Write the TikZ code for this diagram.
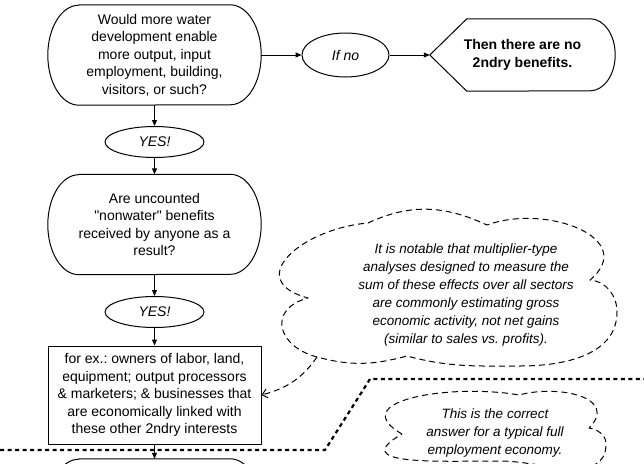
\documentclass[tikz,border=0pt]{standalone}
\usepackage{fontspec}
\setmainfont{Liberation Sans}[Ligatures=TeXOff]
\usetikzlibrary{shapes.geometric,arrows.meta}
\newcommand{\bodyfont}{\fontsize{14}{17.5}\selectfont}
\newcommand{\capsule}[1]{%
  \draw[boxline] ([xshift=31pt]#1.north west) -- ([xshift=-31pt]#1.north east)
    arc[start angle=90,end angle=-90,x radius=31pt,y radius=50pt]
    -- ([xshift=31pt]#1.south west)
    arc[start angle=270,end angle=90,x radius=31pt,y radius=50pt] -- cycle;}
\begin{document}
\frenchspacing
\begin{tikzpicture}[x=1pt, y=1pt, >={Triangle[length=6pt,width=5pt]}, font=\bodyfont, line join=round,
  boxline/.style={line width=1pt},
  qtext/.style={minimum width=213pt, minimum height=100pt, inner sep=0pt, align=center, font=\bodyfont},
  answer/.style={ellipse, draw, line width=1pt, minimum width=99pt, minimum height=31pt, inner sep=0pt, font=\bodyfont\itshape},
  flow/.style={->, line width=1pt},
  cloudline/.style={line width=1pt, dash pattern=on 6pt off 4pt},
  notearrow/.style={cloudline, -{Straight Barb[length=5pt,width=9pt]}},
  sepline/.style={line width=2.2pt, dash pattern=on 4pt off 3.5pt},
  note/.style={align=center, font=\fontsize{13.5}{18}\selectfont\itshape}]
 \useasboundingbox (0,0) rectangle (644,-463);
 \clip (0,0) rectangle (644,-463);
 % main column
 \node[qtext] (q1) at (154.5,-55) {Would more water\\development enable\\more output, input\\employment, building,\\visitors, or such?};
 \capsule{q1}
 \node[answer] (yes1) at (154.5,-142) {YES!};
 \node[qtext] (q2) at (154.5,-224.5) {Are uncounted\\"nonwater" benefits\\received by anyone as a\\result?};
 \capsule{q2}
 \node[answer] (yes2) at (154.5,-312) {YES!};
 \node[draw, line width=1pt, minimum width=213pt, minimum height=98pt, inner sep=0pt, align=center] (box3) at (154.5,-395)
  {for ex.: owners of labor, land,\\equipment; output processors\\\& marketers; \& businesses that\\are economically linked with\\these other 2ndry interests};
 \node[qtext] (q3) at (154.5,-509) {};
 \capsule{q3}
 % no branch
 \node[answer, minimum width=87pt, minimum height=44pt] (ifno) at (345.5,-55) {If no};
 \node[minimum width=185pt, minimum height=72pt, inner sep=0pt, align=center, font=\bodyfont\bfseries] (nogain) at (522.5,-55) {Then there are no\\2ndry benefits.};
 \draw[boxline] (nogain.west) -- ([xshift=37pt]nogain.north west) -- ([xshift=-25pt]nogain.north east)
  arc[start angle=90,end angle=-90,x radius=25pt,y radius=36pt] -- ([xshift=37pt]nogain.south west) -- cycle;
 \draw[flow] (q1) -- (yes1);
 \draw[flow] (yes1) -- (q2);
 \draw[flow] (q2) -- (yes2);
 \draw[flow] (yes2) -- (box3);
 \draw[flow] (box3) -- (q3);
 \draw[flow] (q1) -- (ifno);
 \draw[flow] (ifno) -- (nogain);
 % notes
 \node[note] (bignote) at (466,-295) {It is notable that multiplier-type\\analyses designed to measure the\\sum of these effects over all sectors\\are commonly estimating gross\\economic activity, not net gains\\(similar to sales vs. profits).};
 \draw[cloudline] (368,-223) to[out=25,in=155] (487,-225) to[out=20,in=40,looseness=1.4] (590,-280)
  to[out=-5,in=90] (617,-312) to[out=-90,in=0] (520,-366) to[out=180,in=-15] (407,-356)
  to[out=195,in=-15] (317,-357) to[out=165,in=-165,looseness=1.8] (308,-298)
  to[out=165,in=185,looseness=1.8] (368,-223);
 \coordinate (notetip) at (317,-357);
 \draw[notearrow] (notetip) to[out=-125,in=15] (box3.east);
 \node[note] (smallnote) at (495,-433) {This is the correct\\answer for a typical full\\employment economy.};
 \draw[cloudline] (402,-434) to[out=150,in=170,looseness=1.4] (519,-395) to[out=15,in=45,looseness=1.4] (589,-428)
  to[out=-10,in=90] (606,-444) to[out=-90,in=0] (500,-461) to[out=180,in=-150,looseness=1.6] (402,-434);
 % separator
 \draw[sepline] (0,-450) -- (325,-450) -- (370,-379) -- (644,-379);
\end{tikzpicture}
\end{document}
